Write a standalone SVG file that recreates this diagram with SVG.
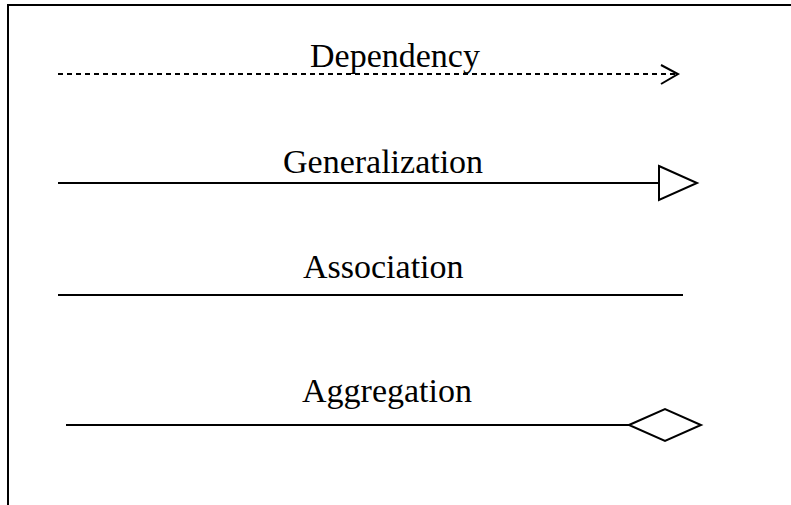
<svg xmlns="http://www.w3.org/2000/svg" width="791" height="505" viewBox="0 0 791 505">
<style>
.ln{stroke:#000;stroke-width:2;fill:none}
.hd{stroke:#000;stroke-width:2;fill:#fff;stroke-linejoin:miter}
.lb{font-family:"Liberation Serif","Times New Roman",serif;font-size:34px;fill:#000}
</style>
<rect width="791" height="505" fill="#fff"/>
<g id="frame">
<line class="ln" x1="7" y1="5" x2="791" y2="5"/>
<line class="ln" x1="8" y1="4" x2="8" y2="505"/>
</g>
<g id="connectors">
<g id="dependency">
<line class="ln" x1="58" y1="74" x2="676" y2="74" stroke-dasharray="5,4"/>
<polyline class="ln" points="661,65 678,74 661,84"/>
</g>
<g id="generalization">
<line class="ln" x1="58" y1="183" x2="659" y2="183"/>
<polygon class="hd" points="659,166 697,183 659,200"/>
</g>
<g id="association">
<line class="ln" x1="58" y1="295" x2="683" y2="295"/>
</g>
<g id="aggregation">
<line class="ln" x1="66" y1="425" x2="629" y2="425"/>
<polygon class="hd" points="629,425 665,409 701,425 665,441"/>
</g>
</g>
<g id="labels">
<text class="lb" x="310" y="67">Dependency</text>
<text class="lb" x="283" y="173">Generalization</text>
<text class="lb" x="303" y="278">Association</text>
<text class="lb" x="302" y="402">Aggregation</text>
</g>
</svg>
